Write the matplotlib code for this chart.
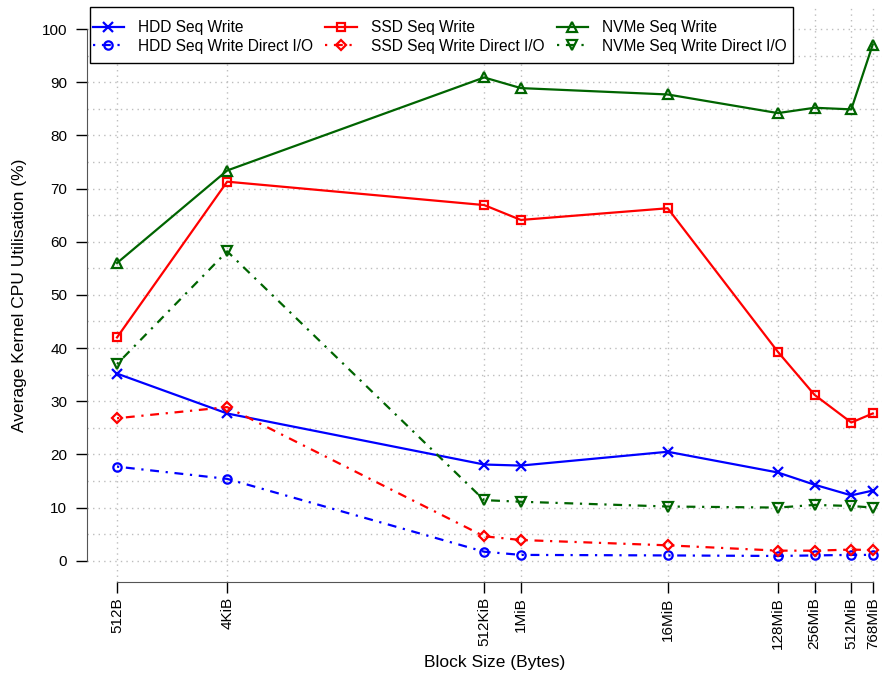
import matplotlib
matplotlib.use('Agg')
import matplotlib.pyplot as plt
import matplotlib.patches as patches
import numpy as np

plt.rcParams['font.family'] = ['Liberation Sans', 'DejaVu Sans']

# block sizes in bytes
block_sizes = [512, 4096, 512 * 1024, 1024 ** 2, 16 * 1024 ** 2,
               128 * 1024 ** 2, 256 * 1024 ** 2, 512 * 1024 ** 2, 768 * 1024 ** 2]
block_labels = ['512B', '4KiB', '512KiB', '1MiB', '16MiB', '128MiB', '256MiB', '512MiB', '768MiB']

hdd_seq = [35.2, 27.7, 18.1, 17.9, 20.5, 16.6, 14.3, 12.3, 13.2]
hdd_direct = [17.7, 15.4, 1.7, 1.1, 1.0, 0.9, 1.0, 1.1, 1.1]
ssd_seq = [42.0, 71.3, 66.9, 64.1, 66.3, 39.3, 31.2, 26.0, 27.7]
ssd_direct = [26.8, 28.9, 4.6, 3.9, 2.9, 1.9, 1.9, 2.1, 2.0]
nvme_seq = [56.0, 73.4, 90.9, 88.9, 87.7, 84.2, 85.2, 84.9, 97.1]
nvme_direct = [37.0, 58.2, 11.4, 11.1, 10.2, 10.0, 10.5, 10.3, 10.0]

fig = plt.figure(figsize=(8.82, 6.8), dpi=100)
ax = fig.add_axes([0.0984, 0.1441, 0.9254, 0.8444])
ax.set_xscale('log', base=2)

dotdash = (0, (1, 3, 4, 3))
# values, label, colour, marker, marker size, line style
series = [
    (hdd_seq, 'HDD Seq Write', 'blue', 'x', 6.8, '-'),
    (hdd_direct, 'HDD Seq Write Direct I/O', 'blue', 'o', 6.0, dotdash),
    (ssd_seq, 'SSD Seq Write', 'red', 's', 5.7, '-'),
    (ssd_direct, 'SSD Seq Write Direct I/O', 'red', 'D', 5.2, dotdash),
    (nvme_seq, 'NVMe Seq Write', '#006400', '^', 7.7, '-'),
    (nvme_direct, 'NVMe Seq Write Direct I/O', '#006400', 'v', 7.7, dotdash),
]
for vals, lab, col, mk, ms, ls in series:
    ax.plot(block_sizes, vals, color=col, linestyle=ls, linewidth=1.6, marker=mk,
            markersize=ms, markerfacecolor='none', markeredgecolor=col,
            markeredgewidth=1.6, label=lab, zorder=3)

lx = np.log2(block_sizes)
span = lx[-1] - lx[0]
ax.set_xlim(2 ** (lx[0] - 0.04 * span), 2 ** (lx[-1] + 0.04 * span))
ax.set_ylim(-4, 104)

ax.set_xticks(block_sizes)
ax.set_xticklabels(block_labels, rotation=90, fontsize=11)
ax.xaxis.set_minor_locator(matplotlib.ticker.NullLocator())
ax.set_yticks(np.arange(0, 101, 10))
ax.set_yticks(np.arange(0, 101, 5), minor=True)
ax.tick_params(axis='y', which='minor', length=0)
ax.tick_params(axis='both', which='major', length=8, width=1, labelsize=11, color='black')
ax.tick_params(axis='x', which='major', pad=3)
ax.tick_params(axis='y', which='major', pad=6)

grid_style = dict(color='#bdbdbd', linestyle=(0, (1, 3)), linewidth=1)
ax.grid(True, which='major', axis='x', **grid_style)
ax.grid(True, which='both', axis='y', **grid_style)
ax.set_axisbelow(True)

for s in ['top', 'right']:
    ax.spines[s].set_visible(False)
ax.spines['left'].set_bounds(0, 100)
ax.spines['bottom'].set_bounds(block_sizes[0], block_sizes[-1])
ax.spines['left'].set_color('#555555')
ax.spines['bottom'].set_color('#555555')

ax.set_xlabel('Block Size (Bytes)', fontsize=12.5, labelpad=4)
ax.set_ylabel('Average Kernel CPU Utilisation (%)', fontsize=12.5, labelpad=11)

leg = ax.legend(loc='upper left', bbox_to_anchor=(0.0075, 0.978), borderaxespad=0, ncol=3,
                prop={'size': 11.2}, frameon=False,
                handlelength=2.0, handletextpad=0.9, columnspacing=0.8,
                labelspacing=0.2, borderpad=0.0)

# R style legend box: tight at the sides, looser top and bottom
fig.canvas.draw()
bb = leg.get_window_extent()
W, H = fig.bbox.width, fig.bbox.height
x0 = bb.x0 - 3
x1 = bb.x1 + 7
yc = (bb.y0 + bb.y1) / 2
y0 = yc - 26
y1 = yc + 30
box = patches.Rectangle((x0 / W, y0 / H), (x1 - x0) / W, (y1 - y0) / H,
                        transform=fig.transFigure, facecolor='white',
                        edgecolor='black', linewidth=1, zorder=4)
fig.add_artist(box)
leg.set_zorder(5)
leg.remove()
fig.add_artist(leg)

plt.savefig('out.png', dpi=100)
